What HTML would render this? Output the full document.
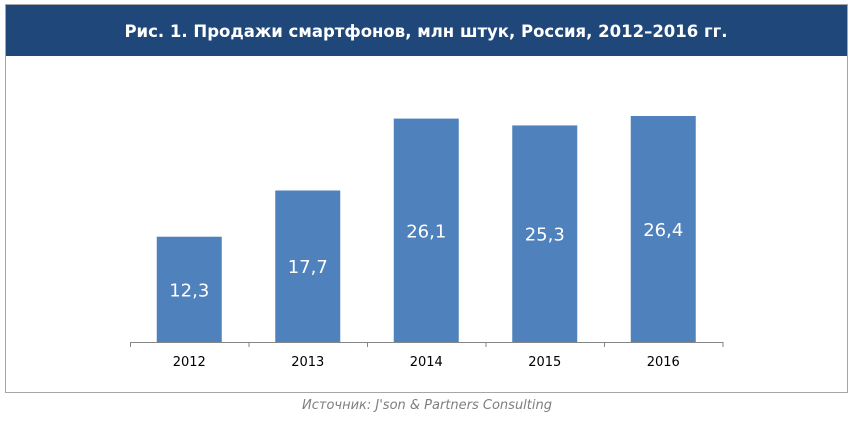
<!DOCTYPE html>
<html><head><meta charset="utf-8"><style>
body{margin:0;background:#fff;width:853px;height:419px;overflow:hidden;font-family:"Liberation Sans","DejaVu Sans",sans-serif}
</style></head><body>
<svg width="853" height="419">
<rect x="5.5" y="4.5" width="842" height="388" fill="#fff" stroke="#a6a6a6"/>
<rect x="6" y="5" width="841" height="51" fill="#1f477a"/>
<text x="426" y="37" text-anchor="middle" fill="#fff" font-size="16.5" font-weight="bold" font-family="'DejaVu Sans',sans-serif">Рис. 1. Продажи смартфонов, млн штук, Россия, 2012–2016 гг.</text>
<g id="plot"></g>
<text x="427" y="409" text-anchor="middle" fill="#7f7f7f" font-size="13" font-style="italic" font-family="'DejaVu Sans',sans-serif">Источник: J'son &amp; Partners Consulting</text>
</svg>
<script>
const categories=["2012","2013","2014","2015","2016"];
const values=[12.3,17.7,26.1,25.3,26.4];
const labels=["12,3","17,7","26,1","25,3","26,4"];
const ns="http://www.w3.org/2000/svg";
const g=document.getElementById('plot');
const x0=130,cw=118.5,base=342,k=8.56,bw=65;
const xScale=i=>x0+cw*i;
const yScale=v=>base-v*k;
function mk(t,a){const e=document.createElementNS(ns,t);for(const n in a)e.setAttribute(n,a[n]);g.appendChild(e);return e;}
categories.forEach((c,i)=>{
 const cx=xScale(i)+cw/2;
 const b=mk('rect',{x:cx-bw/2,y:yScale(values[i]),width:bw,height:base-yScale(values[i]),fill:'#4f81bd'});
 
 
 const t=mk('text',{x:cx,y:(yScale(values[i])+base)/2+7,'text-anchor':'middle',fill:'#fff','font-size':18,'font-family':"'DejaVu Sans',sans-serif"});
 t.textContent=labels[i];
 
 
 const l=mk('text',{x:cx,y:366,'text-anchor':'middle',fill:'#000','font-size':13,'font-family':"'DejaVu Sans',sans-serif"});
 l.textContent=c;
 
 
});
const ax=mk('line',{x1:x0,x2:xScale(categories.length),y1:base+0.5,y2:base+0.5,stroke:'#868686'});


for(let i=0;i<=categories.length;i++){
 const tk=mk('line',{x1:xScale(i)+0.5,x2:xScale(i)+0.5,y1:base,y2:base+5,stroke:'#868686'});
 
 
}
</script>
</body></html>
